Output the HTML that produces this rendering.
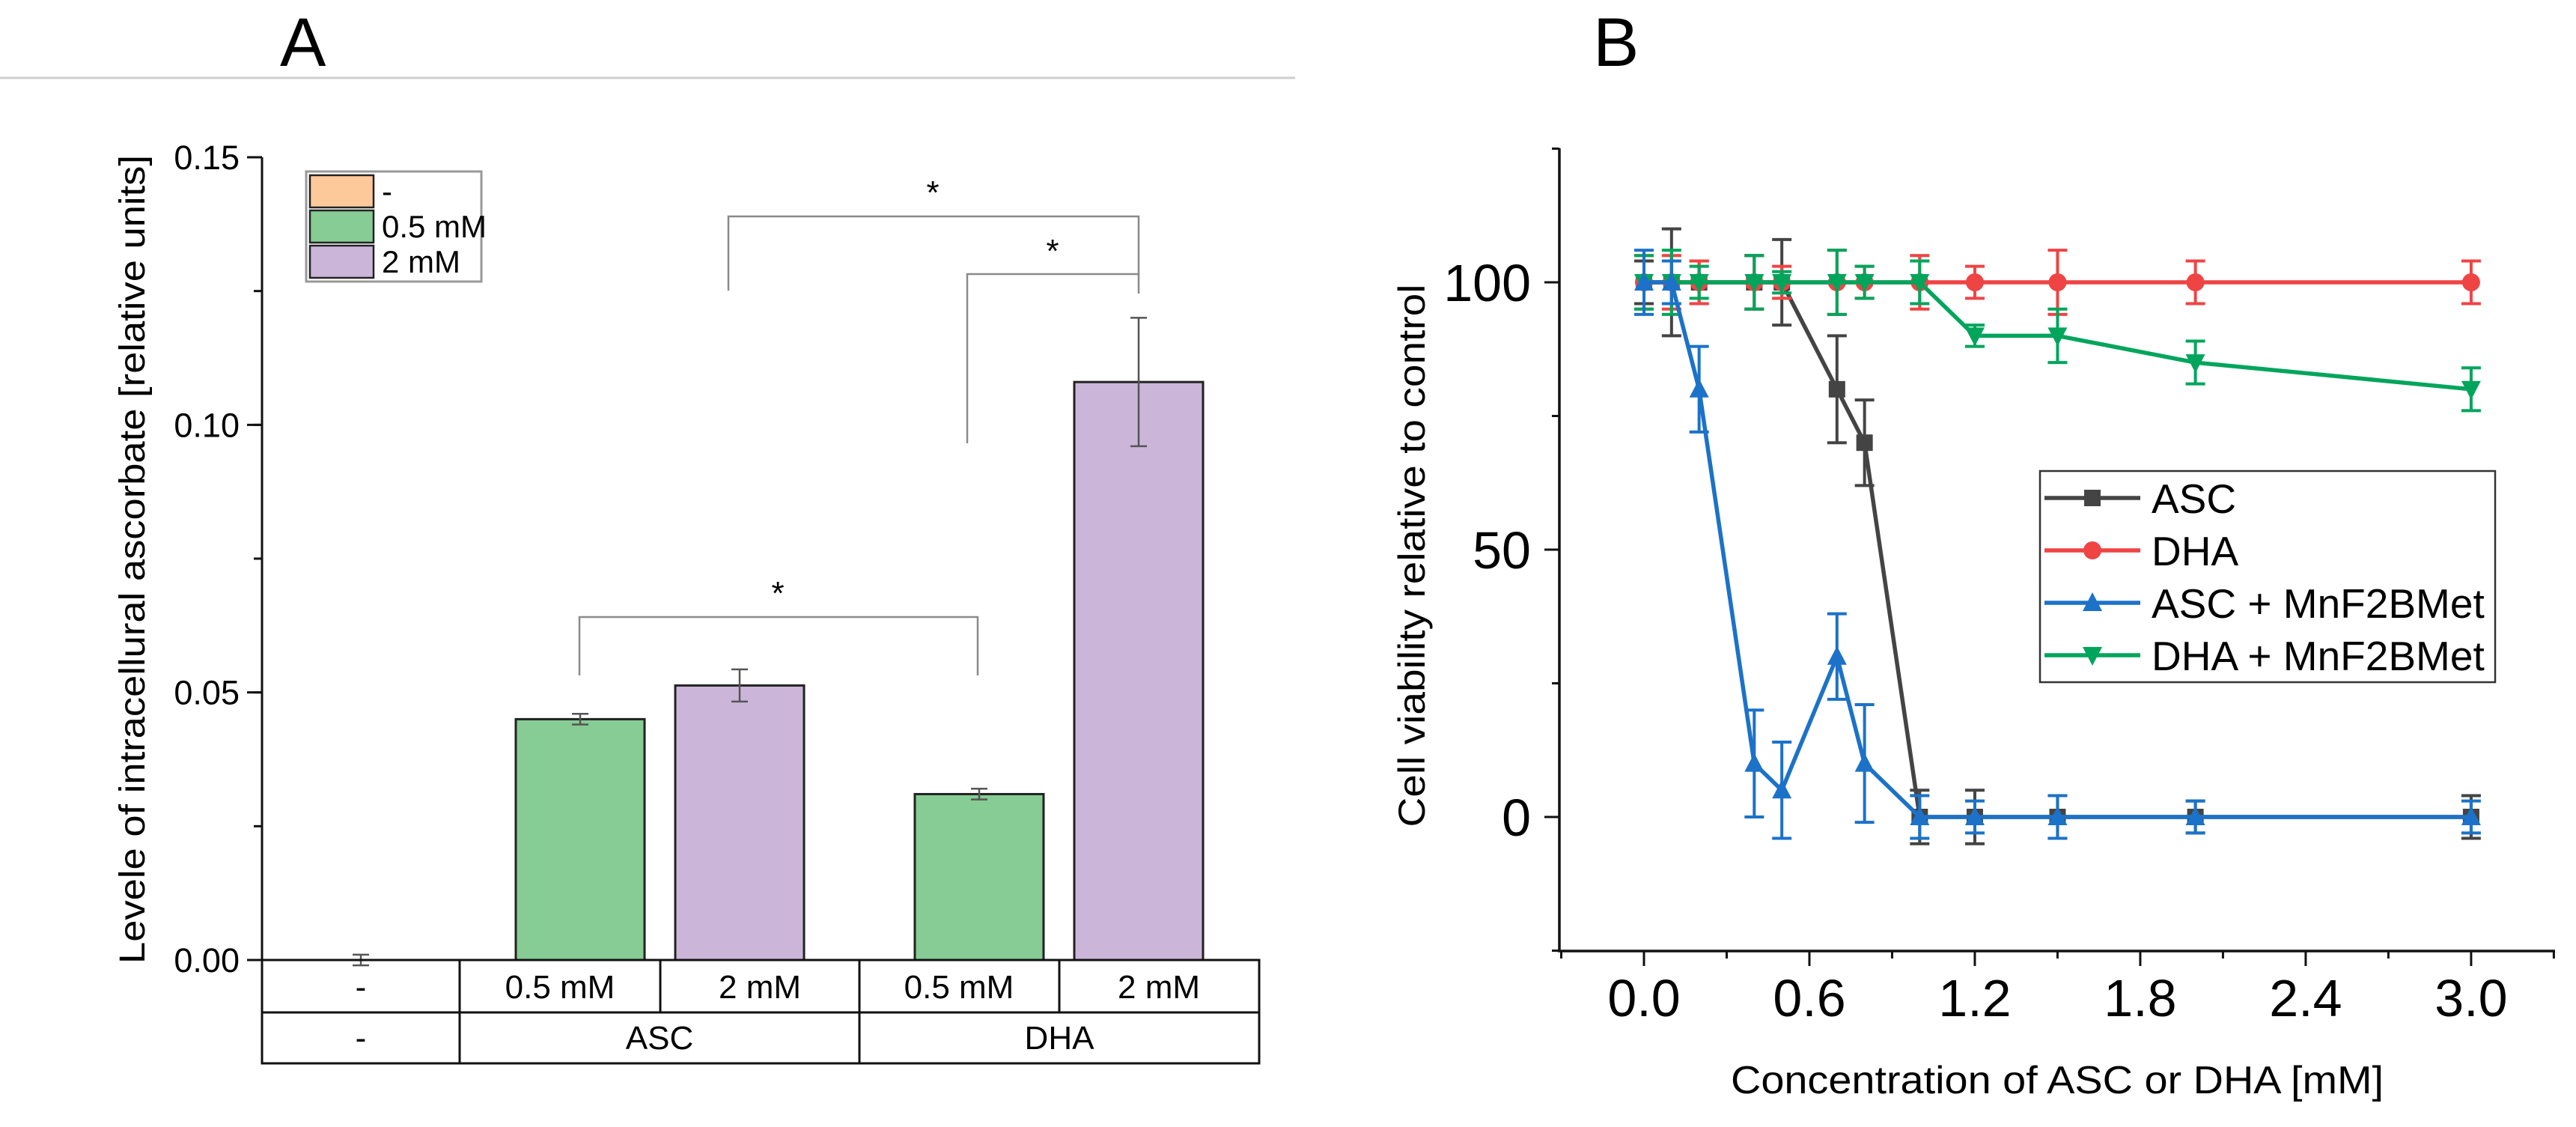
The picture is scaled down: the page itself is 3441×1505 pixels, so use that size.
<!DOCTYPE html>
<html><head><meta charset="utf-8"><style>
html,body{margin:0;padding:0;background:#fff;}
svg{display:block;font-family:"Liberation Sans",Arial,sans-serif;}
</style></head><body>
<svg id="fig" width="3441" height="1505" viewBox="0 0 3441 1505" xmlns="http://www.w3.org/2000/svg">
<line x1="0" y1="104" x2="1730" y2="104" stroke="#cfcfcf" stroke-width="3"/>
<text x="374" y="88" font-size="92">A</text>
<text x="2128" y="88" font-size="92">B</text>
<g id="pa"></g>
<g id="pb"></g>
</svg>
<script>
// ---------- Panel A data ----------
const aCategories = ['-', 'ASC 0.5 mM', 'ASC 2 mM', 'DHA 0.5 mM', 'DHA 2 mM'];
const aValues = [0.0, 0.045, 0.0513, 0.031, 0.108];
const aErrors = [0.001, 0.001, 0.003, 0.001, 0.012];
const aSeries = ['-', '0.5 mM', '2 mM', '0.5 mM', '2 mM'];
const aTicks = [0, 0.05, 0.10, 0.15];
const aTickLabels = ['0.00', '0.05', '0.10', '0.15'];
const aLegend = ['-', '0.5 mM', '2 mM'];

// ---------- Panel B data ----------
const bX = [0, 0.1, 0.2, 0.4, 0.5, 0.7, 0.8, 1.0, 1.2, 1.5, 2.0, 3.0];
const ascVals = [100, 100, 100, 100, 100, 80, 70, 0, 0, 0, 0, 0];
const ascErr = [4, 10, 4, 5, 8, 10, 8, 5, 5, 4, 3, 4];
const dhaVals = [100, 100, 100, 100, 100, 100, 100, 100, 100, 100, 100, 100];
const dhaErr = [5, 5, 4, 5, 3, 6, 3, 5, 3, 6, 4, 4];
const ascMnVals = [100, 100, 80, 10, 5, 30, 10, 0, 0, 0, 0, 0];
const ascMnErr = [6, 4, 8, 10, 9, 8, 11, 4, 3, 4, 3, 3];
const dhaMnVals = [100, 100, 100, 100, 100, 100, 100, 100, 90, 90, 85, 80];
const dhaMnErr = [5, 6, 3, 5, 2, 6, 3, 4, 2, 5, 4, 4];
const bXTicks = [0.0, 0.6, 1.2, 1.8, 2.4, 3.0];
const bXTickLabels = ['0.0', '0.6', '1.2', '1.8', '2.4', '3.0'];
const bYTicks = [0, 50, 100];
const bYTickLabels = ['0', '50', '100'];
const bLegend = ['ASC', 'DHA', 'ASC + MnF2BMet', 'DHA + MnF2BMet'];

const NS = 'http://www.w3.org/2000/svg';
function mk(parent, tag, attrs, text) {
  const e = document.createElementNS(NS, tag);
  for (const k in attrs) e.setAttribute(k, attrs[k]);
  if (text !== undefined) e.textContent = text;
  parent.appendChild(e);
  return e;
}

// ================= Panel A =================
const pa = document.getElementById('pa');
const aX0 = 350, aY0 = 1282, aYTop = 210, aMax = 0.15;
const yA = v => aY0 - v / aMax * (aY0 - aYTop);
const aColors = {'-': '#fdc99a', '0.5 mM': '#86cc94', '2 mM': '#cbb6d9'};
const aBarCenters = [482, 775, 988, 1308, 1521];
const aBarW = 172;

// axis
let e = mk(pa, 'line', {x1: aX0, y1: aYTop, x2: aX0, y2: aY0, stroke: '#111', 'stroke-width': 3});


for (let v = 0; v <= 0.1500001; v += 0.025) {
  const t = mk(pa, 'line', {x1: aX0 - 11, y1: yA(v), x2: aX0, y2: yA(v), stroke: '#111', 'stroke-width': 3});
  
  
}
aTicks.forEach((v, i) => {
  const t = mk(pa, 'line', {x1: aX0 - 20, y1: yA(v), x2: aX0, y2: yA(v), stroke: '#111', 'stroke-width': 3});
  
  
  const l = mk(pa, 'text', {x: aX0 - 30, y: yA(v) + 16, 'font-size': 45, 'text-anchor': 'end'}, aTickLabels[i]);
  
  
});
e = mk(pa, 'text', {x: 0, y: 0, 'font-size': 48, 'text-anchor': 'middle', transform: 'translate(193,747) rotate(-90)', textLength: 1080, lengthAdjust: 'spacingAndGlyphs'}, 'Levele of intracellural ascorbate [relative units]');



// bars
aValues.forEach((v, i) => {
  const cx = aBarCenters[i];
  if (v > 0) {
    const r = mk(pa, 'rect', {x: cx - aBarW / 2, y: yA(v), width: aBarW, height: aY0 - yA(v), fill: aColors[aSeries[i]], stroke: '#222', 'stroke-width': 3});
    
    
  }
  const er = aErrors[i];
  const g = mk(pa, 'g', {stroke: '#555', 'stroke-width': 2.5});
  
  
  mk(g, 'line', {x1: cx, y1: yA(v + er), x2: cx, y2: yA(v - er)});
  mk(g, 'line', {x1: cx - 11, y1: yA(v + er), x2: cx + 11, y2: yA(v + er)});
  mk(g, 'line', {x1: cx - 11, y1: yA(v - er), x2: cx + 11, y2: yA(v - er)});
});

// table
const tbl = mk(pa, 'g', {stroke: '#111', 'stroke-width': 3, fill: 'none'});


mk(tbl, 'rect', {x: 350, y: 1282, width: 1332, height: 138});
mk(tbl, 'line', {x1: 350, y1: 1352, x2: 1682, y2: 1352});
[614, 882, 1148, 1415].forEach(x => mk(tbl, 'line', {x1: x, y1: 1282, x2: x, y2: 1352}));
[614, 1148].forEach(x => mk(tbl, 'line', {x1: x, y1: 1352, x2: x, y2: 1420}));
const row1 = ['-', '0.5 mM', '2 mM', '0.5 mM', '2 mM'];
const row1c = [482, 748, 1015, 1281, 1548];
row1.forEach((s, i) => {
  const t = mk(pa, 'text', {x: row1c[i], y: 1333, 'font-size': 44, 'text-anchor': 'middle'}, s);
  
  
});
[['-', 482], ['ASC', 881], ['DHA', 1415]].forEach(([s, x]) => {
  const t = mk(pa, 'text', {x: x, y: 1401, 'font-size': 44, 'text-anchor': 'middle'}, s);
  
  
});

// legend A
const lgA = mk(pa, 'g', {});


mk(lgA, 'rect', {x: 409, y: 229, width: 234, height: 147, fill: '#fff', stroke: '#999', 'stroke-width': 3});
aLegend.forEach((s, i) => {
  const y = 234 + i * 47;
  const r = mk(lgA, 'rect', {x: 414, y: y, width: 85, height: 43, fill: aColors[s], stroke: '#222', 'stroke-width': 2.5});
  
  
  const t = mk(lgA, 'text', {x: 510, y: y + 36, 'font-size': 42}, s);
  
  
});

// significance brackets
const br = mk(pa, 'g', {stroke: '#8a8a8a', 'stroke-width': 2.5, fill: 'none'});


mk(br, 'polyline', {points: '973,388 973,289 1521,289 1521,366'});
mk(br, 'polyline', {points: '1292,592 1292,366 1521,366 1521,392'});
mk(br, 'polyline', {points: '774,902 774,824 1306,824 1306,902'});
[[1246, 272], [1406, 350], [1039, 807]].forEach(([x, y]) => {
  const t = mk(pa, 'text', {x: x, y: y, 'font-size': 44, 'text-anchor': 'middle'}, '*');
  
  
});

// ================= Panel B =================
const pb = document.getElementById('pb');
const bX0 = 2083, bX1 = 3413, bYb = 1270, bYt = 198;
const xB = v => 2196 + v * 368.3;
const yB = v => 1091 - v * 7.14;

e = mk(pb, 'line', {x1: bX0, y1: bYt, x2: bX0, y2: bYb, stroke: '#111', 'stroke-width': 3.5});


e = mk(pb, 'line', {x1: bX0 - 2, y1: bYb, x2: bX1, y2: bYb, stroke: '#111', 'stroke-width': 3.5});


for (let v = -25; v <= 125; v += 25) {
  const major = v % 50 === 0;
  const t = mk(pb, 'line', {x1: bX0 - (major ? 20 : 10), y1: yB(v), x2: bX0, y2: yB(v), stroke: '#111', 'stroke-width': 3});
  
  
}
for (let k = -1; k <= 11; k++) {
  const v = k * 0.3;
  const major = k % 2 === 0;
  const t = mk(pb, 'line', {x1: xB(v), y1: bYb, x2: xB(v), y2: bYb + (major ? 20 : 10), stroke: '#111', 'stroke-width': 3});
  
  
}
bYTicks.forEach((v, i) => {
  const t = mk(pb, 'text', {x: 2045, y: yB(v) + 25, 'font-size': 70, 'text-anchor': 'end'}, bYTickLabels[i]);
  
  
});
bXTicks.forEach((v, i) => {
  const t = mk(pb, 'text', {x: xB(v), y: 1357, 'font-size': 70, 'text-anchor': 'middle'}, bXTickLabels[i]);
  
  
});
e = mk(pb, 'text', {x: 2748, y: 1460, 'font-size': 52, 'text-anchor': 'middle', textLength: 872, lengthAdjust: 'spacingAndGlyphs'}, 'Concentration of ASC or DHA [mM]');


e = mk(pb, 'text', {x: 0, y: 0, 'font-size': 50, 'text-anchor': 'middle', transform: 'translate(1903,742) rotate(-90)', textLength: 725, lengthAdjust: 'spacingAndGlyphs'}, 'Cell viability relative to control');



function marker(g, type, cx, cy, color) {
  const s = 11;
  if (type === 'square') return mk(g, 'rect', {x: cx - s, y: cy - s, width: 2 * s, height: 2 * s, fill: color});
  if (type === 'circle') return mk(g, 'circle', {cx: cx, cy: cy, r: s + 1, fill: color});
  if (type === 'up') return mk(g, 'polygon', {points: `${cx},${cy - s - 3} ${cx - s - 2},${cy + s} ${cx + s + 2},${cy + s}`, fill: color});
  return mk(g, 'polygon', {points: `${cx},${cy + s + 3} ${cx - s - 2},${cy - s} ${cx + s + 2},${cy - s}`, fill: color});
}
const seriesB = [
  {name: 'asc', vals: ascVals, err: ascErr, color: '#444444', m: 'square'},
  {name: 'dha', vals: dhaVals, err: dhaErr, color: '#ef4444', m: 'circle'},
  {name: 'dha-mnf2bmet', vals: dhaMnVals, err: dhaMnErr, color: '#00a55c', m: 'down'},
  {name: 'asc-mnf2bmet', vals: ascMnVals, err: ascMnErr, color: '#1c72c8', m: 'up'}
];
seriesB.forEach(s => {
  const g = mk(pb, 'g', {});
  
  
  const eg = mk(g, 'g', {stroke: s.color, 'stroke-width': 4});
  bX.forEach((x, i) => {
    const cx = xB(x), t = yB(s.vals[i] + s.err[i]), b = yB(s.vals[i] - s.err[i]);
    mk(eg, 'line', {x1: cx, y1: t, x2: cx, y2: b});
    mk(eg, 'line', {x1: cx - 13, y1: t, x2: cx + 13, y2: t});
    mk(eg, 'line', {x1: cx - 13, y1: b, x2: cx + 13, y2: b});
  });
  const pts = bX.map((x, i) => xB(x) + ',' + yB(s.vals[i])).join(' ');
  const pl = mk(g, 'polyline', {points: pts, fill: 'none', stroke: s.color, 'stroke-width': 5.5, 'stroke-linejoin': 'round'});
  
  
  bX.forEach((x, i) => {
    const m = marker(g, s.m, xB(x), yB(s.vals[i]), s.color);
    
    
  });
});

// legend B
const lgB = mk(pb, 'g', {});


mk(lgB, 'rect', {x: 2725, y: 629, width: 608, height: 282, fill: '#fff', stroke: '#333', 'stroke-width': 2.5});
const legOrder = [0, 1, 3, 2];
bLegend.forEach((label, i) => {
  const s = seriesB[legOrder[i]];
  const y = 665 + i * 70;
  const l = mk(lgB, 'line', {x1: 2731, y1: y, x2: 2859, y2: y, stroke: s.color, 'stroke-width': 5.5});
  
  
  const m = marker(lgB, s.m, 2795, y, s.color);
  
  
  const t = mk(lgB, 'text', {x: 2874, y: y + 20, 'font-size': 55}, label);
  
  
});
</script>
</body></html>
